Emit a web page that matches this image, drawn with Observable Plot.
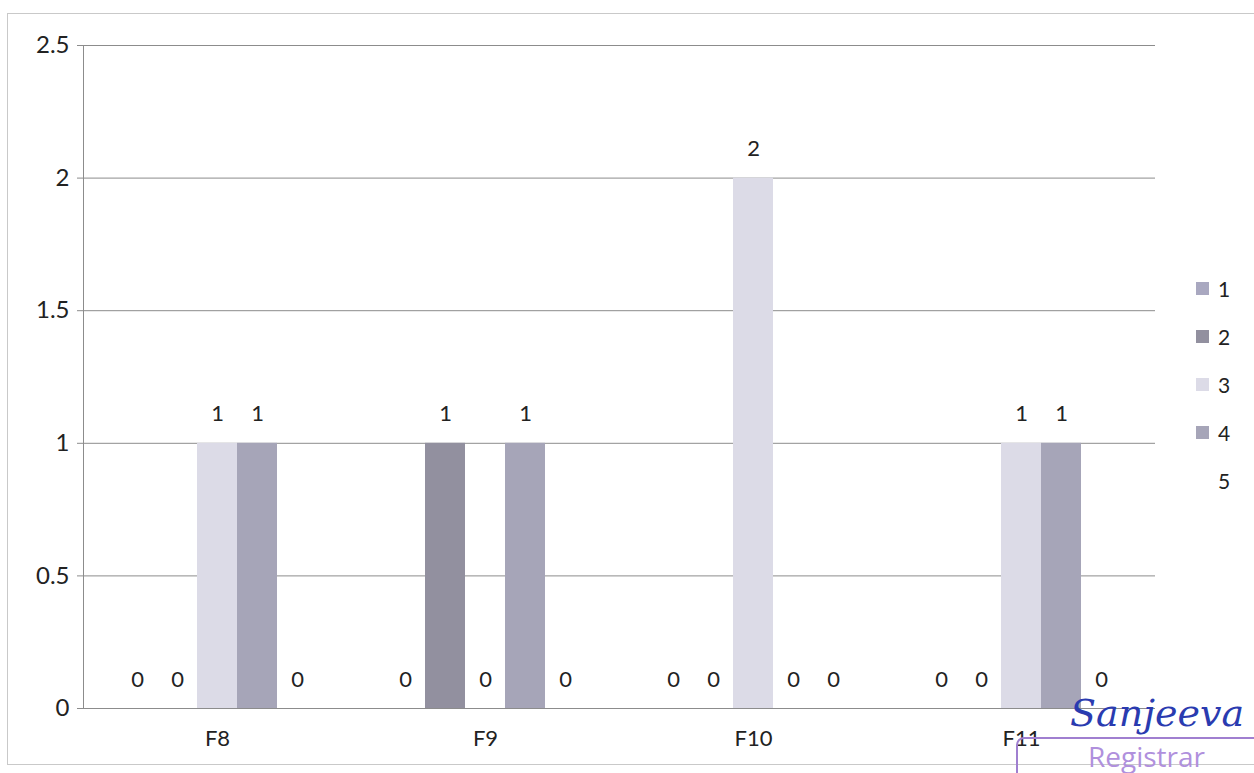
<!DOCTYPE html>
<html>
<head>
<meta charset="utf-8">
<script src="https://cdn.jsdelivr.net/npm/d3@7"></script>
<script src="https://cdn.jsdelivr.net/npm/@observablehq/plot@0.6"></script>
<style>
  html, body { margin: 0; padding: 0; background: #fff; }
  #wrap { position: relative; width: 1254px; height: 773px; overflow: hidden; font-family: Lato, "Open Sans", sans-serif; }
  #frame { position: absolute; left: 7px; top: 13px; width: 1270px; height: 752px; border: 1px solid #c9c9c9; box-sizing: border-box; }
  #chart { position: absolute; left: 0; top: 0; }
  #legend { position: absolute; left: 1196px; top: 264px; font-size: 21px; color: #222; }
  #legend .row { height: 48px; display: flex; align-items: center; }
  #legend .sw { width: 13px; height: 13px; margin-right: 9px; }
  #sig { position: absolute; left: 1070px; top: 693px; font-family: "DejaVu Serif", serif; font-style: italic; font-size: 38px; line-height: 40px; color: #2a3bb0; white-space: nowrap; }
  #stamp { position: absolute; left: 1016px; top: 737px; width: 300px; height: 80px; border: 2px solid #a07fd0; border-radius: 8px; }
  #stamp span { position: absolute; left: 70px; top: 2px; font-size: 28px; line-height: 30px; color: #b090dd; font-family: "Open Sans", sans-serif; }
</style>
</head>
<body>
<div id="wrap">
  <div id="frame"></div>
  <div id="chart"></div>
  <div id="legend"></div>
  <div id="sig">Sanjeeva</div>
  <div id="stamp"><span>Registrar</span></div>
</div>
<script>
const categories = ["F8", "F9", "F10", "F11"];
const seriesNames = ["1", "2", "3", "4", "5"];
const series1 = [0, 0, 0, 0];
const series2 = [0, 1, 0, 0];
const series3 = [1, 0, 2, 1];
const series4 = [1, 1, 0, 1];
const series5 = [0, 0, 0, 0];
const yTicks = [0, 0.5, 1, 1.5, 2, 2.5];
const seriesColors = ["#a9a8c0", "#92909f", "#dcdbe7", "#a6a5b8", "#ffffff"];

const allSeries = [series1, series2, series3, series4, series5];
const rows = [];
categories.forEach((c, ci) => {
  seriesNames.forEach((s, si) => {
    rows.push({cat: c, series: s, value: allSeries[si][ci]});
  });
});

const chart = Plot.plot({
  width: 1180,
  height: 773,
  marginLeft: 82,
  marginRight: 25,
  marginTop: 45,
  marginBottom: 65,
  style: {fontFamily: "Lato, 'Open Sans', sans-serif", fontSize: "20px", color: "#222", background: "transparent"},
  fx: {domain: categories, padding: 0, label: null},
  x: {domain: seriesNames, axis: null, paddingInner: 0, paddingOuter: 0.84},
  y: {domain: [0, 2.5], label: null},
  color: {domain: seriesNames, range: seriesColors},
  marks: [
    Plot.gridY(yTicks, {stroke: "#8c8c8c", strokeOpacity: 1, strokeWidth: 1}),
    Plot.frame({anchor: "left", facetAnchor: "left", stroke: "#8c8c8c"}),
    Plot.barY(rows.filter(d => d.value > 0), {fx: "cat", x: "series", y: "value", fill: "series"}),
    Plot.ruleY([0], {stroke: "#8c8c8c"}),
    Plot.axisY(yTicks, {tickSize: 6, tickPadding: 8, fontSize: 24, stroke: "#8c8c8c", tickFormat: d => String(d), label: null}),
    Plot.axisFx({anchor: "bottom", tickSize: 0, tickPadding: 22, fontSize: 22, label: null}),
    Plot.text(rows, {fx: "cat", x: "series", y: "value", text: d => String(d.value), dy: -29, fontSize: 22, fill: "#222"})
  ]
});
document.getElementById("chart").appendChild(chart);

const legend = document.getElementById("legend");
seriesNames.forEach((s, i) => {
  const row = document.createElement("div");
  row.className = "row";
  const sw = document.createElement("div");
  sw.className = "sw";
  sw.style.background = seriesColors[i];
  const t = document.createElement("span");
  t.textContent = s;
  row.appendChild(sw);
  row.appendChild(t);
  legend.appendChild(row);
});
</script>
</body>
</html>
